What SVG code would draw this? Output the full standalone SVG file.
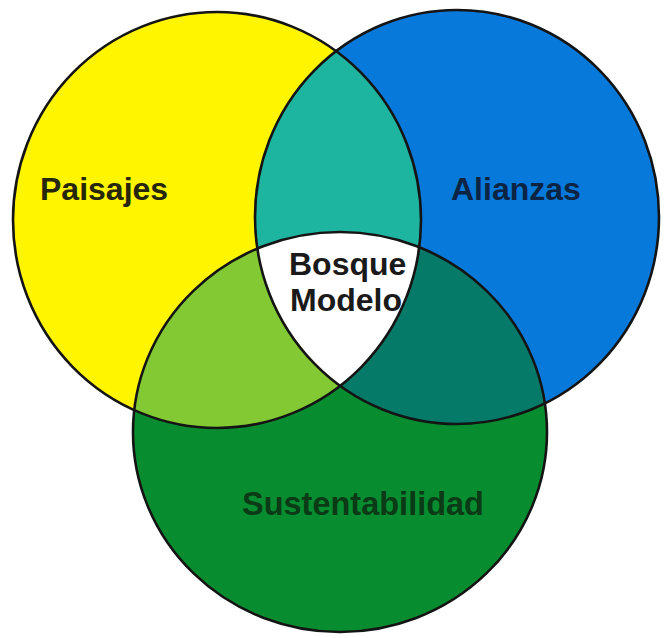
<svg xmlns="http://www.w3.org/2000/svg" width="664" height="638" viewBox="0 0 664 638">
  <style>
    .outline { fill: none; stroke: #141414; stroke-width: 2.6; }
    .lbl { font-family: "Liberation Sans", Arial, sans-serif; font-weight: bold; font-size: 32px; }
  </style>
  <defs>
    <ellipse id="eY" cx="217" cy="220" rx="204" ry="208"/>
    <ellipse id="eB" cx="457" cy="217" rx="202" ry="207"/>
    <ellipse id="eG" cx="340" cy="432" rx="207" ry="200"/>
    <clipPath id="cY"><use href="#eY"/></clipPath>
    <clipPath id="cB"><use href="#eB"/></clipPath>
    <clipPath id="cG"><use href="#eG"/></clipPath>
  </defs>
  <rect width="664" height="638" fill="#ffffff"/>

  <g id="paisajes">
    <use href="#eY" fill="#FFF500"/>
  </g>
  <g id="alianzas">
    <use href="#eB" fill="#0679DA"/>
  </g>
  <g id="sustentabilidad">
    <use href="#eG" fill="#078C30"/>
  </g>
  <g id="overlaps">
    <g clip-path="url(#cY)"><use href="#eB" fill="#1DB4A0"/></g>
    <g clip-path="url(#cY)"><use href="#eG" fill="#82C934"/></g>
    <g clip-path="url(#cB)"><use href="#eG" fill="#067A68"/></g>
  </g>
  <g id="bosque-modelo">
    <g clip-path="url(#cY)">
      <g clip-path="url(#cB)">
        <use href="#eG" fill="#ffffff"/>
        <text class="lbl" fill="#1a1a1a" x="289" y="275">Bosque</text>
        <text class="lbl" fill="#1a1a1a" x="290" y="311">Modelo</text>
      </g>
    </g>
  </g>
  <g id="outlines">
    <use href="#eY" class="outline"/>
    <use href="#eB" class="outline"/>
    <use href="#eG" class="outline"/>
  </g>
  <g id="labels">
    <text class="lbl" fill="#262608" x="40" y="200">Paisajes</text>
    <text class="lbl" fill="#0B2444" x="451" y="200">Alianzas</text>
    <text class="lbl" fill="#0B3A16" x="242" y="515" style="font-size:32.5px">Sustentabilidad</text>
  </g>
</svg>
